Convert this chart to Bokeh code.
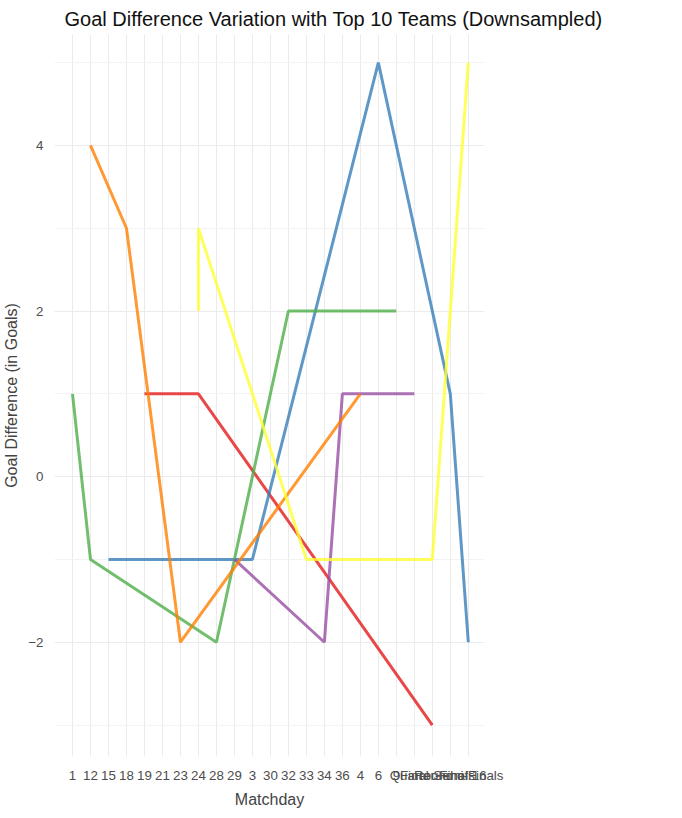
from bokeh.plotting import figure
from bokeh.models import Legend, LegendItem, FixedTicker, Range1d
from bokeh.embed import file_html
from bokeh.resources import INLINE

matchdays = ["1", "12", "15", "18", "19", "21", "23", "24", "28", "29", "3", "30",
             "32", "33", "34", "36", "4", "6", "9", "Final", "Quarter-Finals",
             "Round of 16", "Semi-Finals"]

teams = ["Athletic Bilbao", "Atletico de Madrid", "Real Betis Balompie",
         "Real Madrid", "Sevilla FC", "Valencia CF"]
colors = ["#E41A1C", "#377EB8", "#4DAF4A", "#984EA3", "#FF7F00", "#FFFF33"]

series_x = {
    "Athletic Bilbao": ["19", "24", "Quarter-Finals"],
    "Atletico de Madrid": ["15", "29", "3", "6", "Round of 16", "Semi-Finals"],
    "Real Betis Balompie": ["1", "12", "28", "32", "9"],
    "Real Madrid": ["29", "34", "36", "Final"],
    "Sevilla FC": ["12", "18", "23", "4"],
    "Valencia CF": ["24", "24", "33", "Quarter-Finals", "Semi-Finals"],
}
series_y = {
    "Athletic Bilbao": [1, 1, -3],
    "Atletico de Madrid": [-1, -1, -1, 5, 1, -2],
    "Real Betis Balompie": [1, -1, -2, 2, 2],
    "Real Madrid": [-1, -2, 1, 1],
    "Sevilla FC": [4, 3, -2, 1],
    "Valencia CF": [2, 3, -1, -1, 5],
}

pos = {m: i for i, m in enumerate(matchdays)}

p = figure(frame_width=430, frame_height=722, output_backend="svg",
           toolbar_location=None, title="Goal Difference Variation with Top 10 Teams (Downsampled)")
p.x_range = Range1d(-1.0, len(matchdays) - 0.1)
p.y_range = Range1d(-3.38, 5.34)
p.min_border_left = 10
p.title.text_font_size = "15pt"
p.title.text_font_style = "normal"
p.title.text_color = "#111111"
p.title.offset = 10
p.outline_line_color = None
p.axis.axis_line_color = None
p.axis.major_tick_line_color = None
p.axis.minor_tick_line_color = None
p.axis.major_label_text_color = "#4D4D4D"
p.axis.major_label_text_font_size = "10pt"
p.axis.axis_label_text_font_style = "normal"
p.axis.axis_label_text_font_size = "12pt"
p.xaxis.axis_label = "Matchday"
p.yaxis.axis_label = "Goal Difference (in Goals)"
p.xaxis.ticker = FixedTicker(ticks=list(range(len(matchdays))))
p.xaxis.major_label_overrides = {i: m for i, m in enumerate(matchdays)}
p.yaxis.ticker = FixedTicker(ticks=[-2, 0, 2, 4], minor_ticks=[-3, -1, 1, 3, 5])
p.grid.grid_line_color = "#EBEBEB"
p.ygrid.minor_grid_line_color = "#F3F3F3"

items = []
for t, c in zip(teams, colors):
    r = p.line([pos[m] for m in series_x[t]], series_y[t],
               line_color=c, line_width=3, line_alpha=0.8)
    items.append(LegendItem(label=t, renderers=[r]))

legend = Legend(items=items, title="Opponent", border_line_color=None,
                title_text_font_size="12pt", title_text_font_style="normal",
                label_text_font_size="10pt", glyph_width=30, spacing=4,
                location="center", margin=5)
p.add_layout(legend, "right")

open("out.html", "w").write(file_html(p, INLINE))
